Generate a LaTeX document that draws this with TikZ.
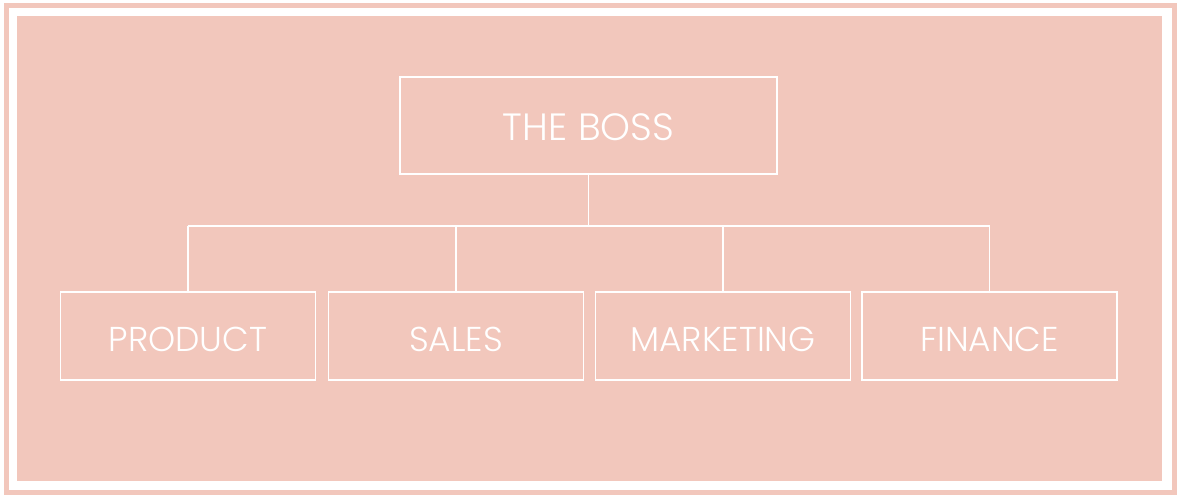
\documentclass[tikz,border=0pt]{standalone}
\usepackage{fontspec}
\IfFontExistsTF{Poppins Light}{\setmainfont{Poppins Light}}{\setmainfont{Poppins}}
\usepackage{tikz}
\usetikzlibrary{positioning}
\definecolor{blush}{RGB}{242,199,188}

\begin{document}
\begin{tikzpicture}[x=1pt, y=-1pt, line width=1.2pt,
  every box/.style={draw=white, text=white, inner sep=0pt, text depth=0pt},
  boss box/.style={minimum width=377pt, minimum height=97pt, text height=30pt,
    font=\fontsize{38}{40}\selectfont},
  dept box/.style={minimum width=255pt, minimum height=88pt, text height=31.5pt,
    font=\fontsize{34.5}{38}\selectfont}]

% frame
\fill [white] (0,0) rectangle (1180,500);
\draw [blush, line width=5pt] (6.5,5.5) rectangle (1174.5,492.5);
\fill [blush] (17,16) rectangle (1162,481);

\node [every box/.try, boss box/.try] (boss) at (588.5,125.5) {THE BOSS};

\foreach \m/\x [count=\i] in {PRODUCT/188,SALES/456,MARKETING/723,FINANCE/989.5}
  \node [every box/.try, dept box/.try] (dept-\i) at (\x,336) {\m};

\coordinate (bus) at (588.5,226);
\draw [white] (boss.south) -- (bus);
\draw [white] (dept-1.north |- bus) -- (dept-4.north |- bus);

\foreach \i in {1,...,4}
  \draw [white] (dept-\i.north |- bus) -- (dept-\i.north);

\end{tikzpicture}
\end{document}
